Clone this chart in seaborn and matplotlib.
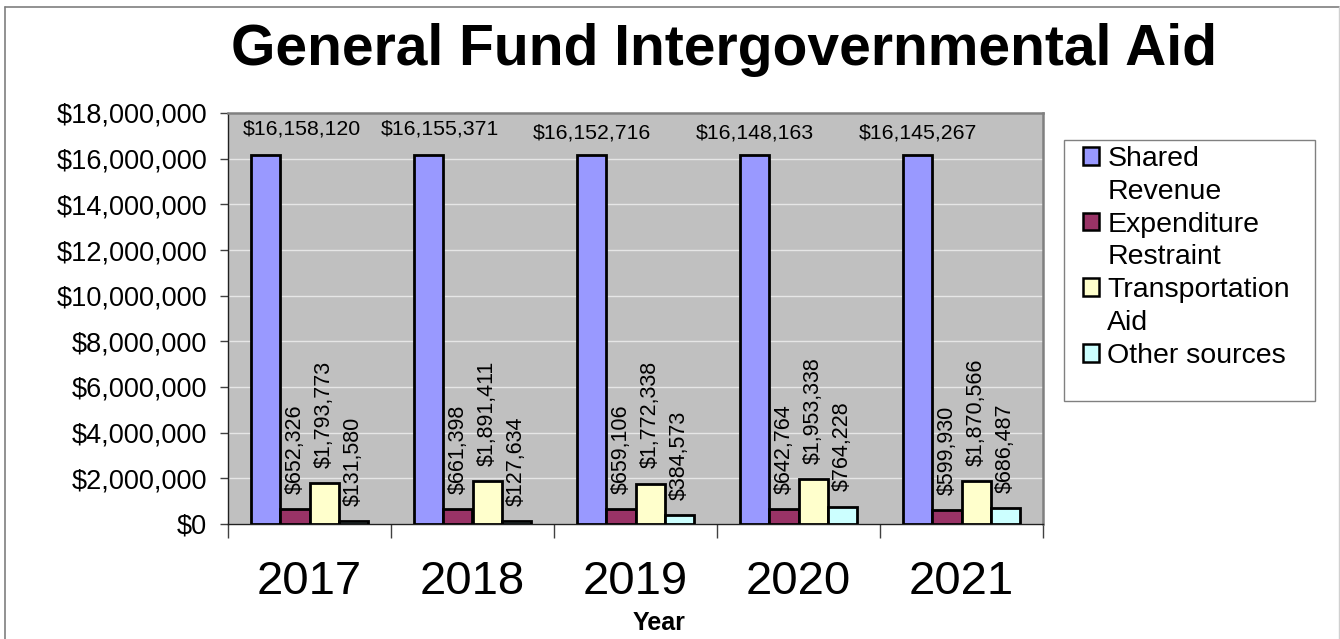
import matplotlib
matplotlib.use("Agg")
import matplotlib.pyplot as plt
from matplotlib.patches import Rectangle
from matplotlib.lines import Line2D
from matplotlib.ticker import StrMethodFormatter, FixedLocator, NullFormatter
import seaborn as sns
import pandas as pd

# --- data -------------------------------------------------------------
years = ["2017", "2018", "2019", "2020", "2021"]
series = ["Shared Revenue", "Expenditure Restraint", "Transportation Aid", "Other sources"]
shared_revenue = [16158120, 16155371, 16152716, 16148163, 16145267]
expenditure_restraint = [652326, 661398, 659106, 642764, 599930]
transportation_aid = [1793773, 1891411, 1772338, 1953338, 1870566]
other_sources = [131580, 127634, 384573, 764228, 686487]
legend_labels = ["Shared\nRevenue", "Expenditure\nRestraint", "Transportation\nAid", "Other sources"]
y_ticks = list(range(0, 18000001, 2000000))

colors = ["#9999FF", "#993366", "#FFFFCC", "#CCFFFF"]

values = [shared_revenue, expenditure_restraint, transportation_aid, other_sources]
df = pd.DataFrame(
    [(y, s, v) for s, vals in zip(series, values) for y, v in zip(years, vals)],
    columns=["Year", "Source", "Amount"],
)

# --- figure -----------------------------------------------------------
sns.set_style("white")
plt.rcParams["font.family"] = ["Liberation Sans", "DejaVu Sans"]
plt.rcParams.update({
    "text.color": "black",
    "axes.labelcolor": "black",
    "xtick.color": "black",
    "ytick.color": "black",
})

W, H = 1340, 639
fig = plt.figure(figsize=(W / 100, H / 100), dpi=100)
ax = fig.add_axes([228 / W, 1 - 524 / H, (1043 - 228) / W, (524 - 113) / H])
ax.set_facecolor("#C0C0C0")

sns.barplot(
    data=df, x="Year", y="Amount", hue="Source", order=years, hue_order=series,
    palette=colors, saturation=1, width=0.72, gap=0, dodge=True,
    edgecolor="black", linewidth=2.0, legend=False, ax=ax, zorder=3,
)

ax.set_ylim(0, 18000000)
ax.set_xlim(-0.5, len(years) - 0.5)
ax.set_yticks(y_ticks)
ax.yaxis.set_major_formatter(StrMethodFormatter("${x:,.0f}"))
ax.grid(axis="y", color="#E6E6E6", linewidth=1.0, zorder=0)
ax.set_axisbelow(True)

# category boundaries carry the tick marks; years sit between them
ax.xaxis.set_major_locator(FixedLocator([i - 0.5 for i in range(len(years) + 1)]))
ax.xaxis.set_major_formatter(NullFormatter())
ax.xaxis.set_minor_locator(FixedLocator(list(range(len(years)))))
ax.set_xticklabels(years, minor=True)
ax.tick_params(axis="x", which="major", length=10, width=1, color="#404040", direction="out")
ax.tick_params(axis="x", which="minor", length=0, pad=26, labelsize=34)
ax.tick_params(axis="y", length=6, width=1, color="#404040", direction="out", pad=9, labelsize=19.5)
ax.tick_params(axis="both", bottom=True, left=True)

ax.set_ylabel("")
ax.set_xlabel("Year", fontsize=18, fontweight="bold")
ax.xaxis.set_label_coords((659 - 228) / (1043 - 228), -(611 - 524) / (524 - 113), transform=ax.transAxes)
ax.xaxis.label.set_va("top")

for side in ("left", "bottom"):
    ax.spines[side].set_color("#202020")
    ax.spines[side].set_linewidth(1.0)
for side in ("top", "right"):
    ax.spines[side].set_color("#808080")
    ax.spines[side].set_linewidth(1.8)

# --- value labels -----------------------------------------------------
fmt = lambda v: f"${v:,.0f}"
top_labels = ax.bar_label(ax.containers[0], labels=[fmt(v) for v in shared_revenue],
                          padding=9, fontsize=15.3)
for cont, vals in zip(ax.containers[1:], values[1:]):
    ax.bar_label(cont, labels=[fmt(v) for v in vals], padding=11, fontsize=15.5, rotation=90)

# keep the horizontal labels inside the plot and clear of each other
fig.canvas.draw()
renderer = fig.canvas.get_renderer()
ax_left = ax.get_window_extent(renderer).x0
prev_right = None
for t in top_labels:
    bb = t.get_window_extent(renderer)
    shift = 0.0
    if bb.x0 < ax_left + 15:
        shift = ax_left + 15 - bb.x0
    if prev_right is not None and bb.x0 + shift < prev_right + 20:
        shift = prev_right + 20 - bb.x0
    if shift:
        ox, oy = t.xyann
        t.xyann = (ox + shift * 72 / fig.dpi, oy + 3)
    prev_right = bb.x1 + shift

# --- legend -----------------------------------------------------------
handles, labels = [], []
for color, lab in zip(colors, legend_labels):
    lines = lab.split("\n")
    handles.append(Rectangle((0, 0), 1, 1, facecolor=color, edgecolor="black", linewidth=1.8))
    labels.append(lines[0])
    for extra in lines[1:]:
        handles.append(Rectangle((0, 0), 1, 1, facecolor="none", edgecolor="none"))
        labels.append(extra)

leg = fig.legend(
    handles, labels, loc="upper left", bbox_to_anchor=(1063 / W, 1 - 126 / H),
    frameon=False, fontsize=20.5, handlelength=0.58, handleheight=0.58,
    handletextpad=0.28, labelspacing=0.24, borderpad=0.2,
)
fig.add_artist(Rectangle((1064 / W, 1 - 401 / H), (1315 - 1064) / W, (401 - 140) / H,
                         transform=fig.transFigure, facecolor="none",
                         edgecolor="#808080", linewidth=1.0))

# --- title and outer border -------------------------------------------
fig.text(724 / W, 1 - 65 / H, "General Fund Intergovernmental Aid",
         ha="center", va="baseline", fontsize=41, fontweight="bold")

fig.add_artist(Line2D([5 / W, 1339 / W], [1 - 7 / H, 1 - 7 / H], transform=fig.transFigure,
                      color="#7f7f7f", linewidth=1.2))
fig.add_artist(Line2D([5 / W, 5 / W], [0, 1 - 7 / H], transform=fig.transFigure,
                      color="#7f7f7f", linewidth=1.2))
fig.add_artist(Line2D([1339 / W, 1339 / W], [0, 1 - 7 / H], transform=fig.transFigure,
                      color="#d0d0d0", linewidth=1.0))

fig.savefig("out.png", dpi=100)
